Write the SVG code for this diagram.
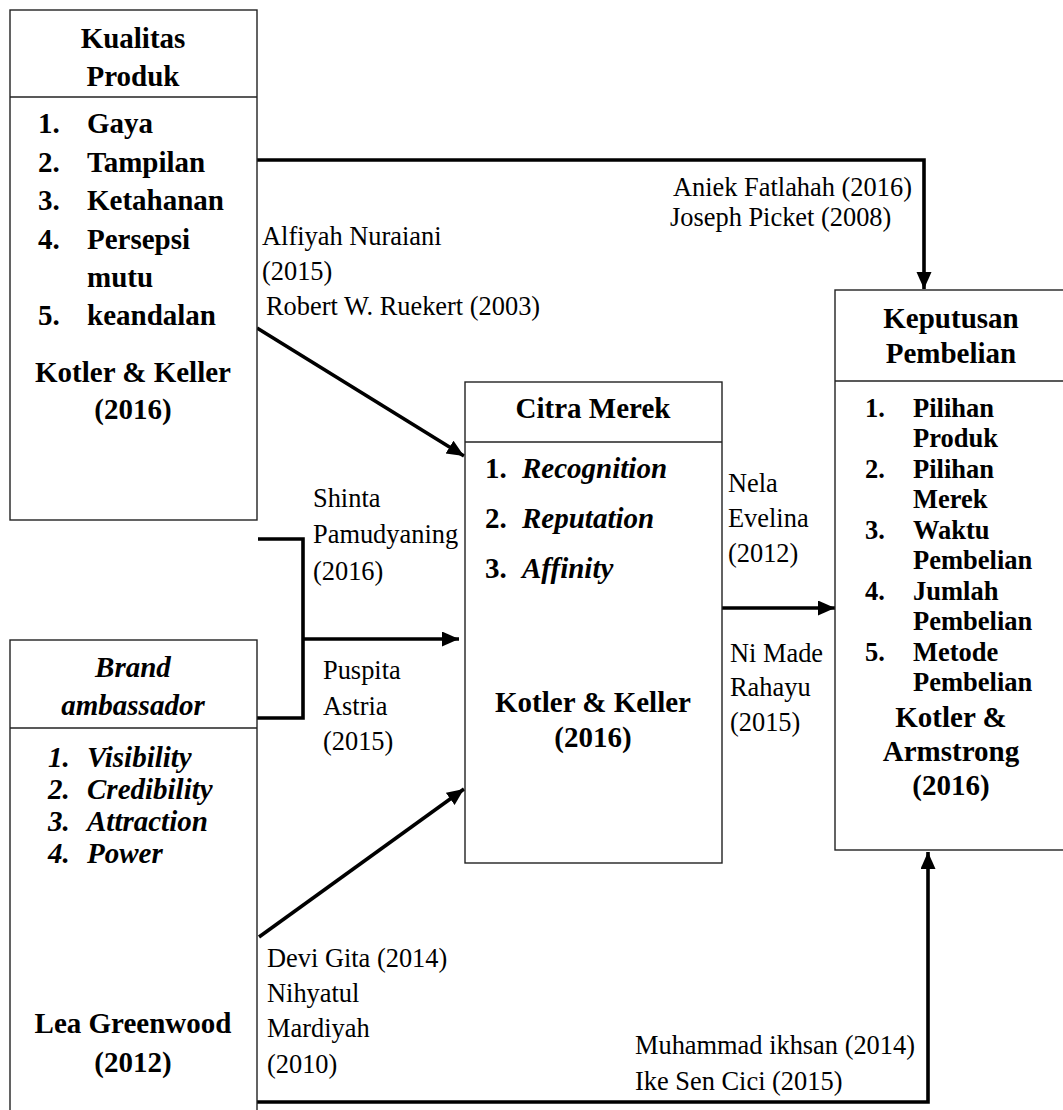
<svg xmlns="http://www.w3.org/2000/svg" width="1063" height="1110" viewBox="0 0 1063 1110">
<style>
text{font-family:"Liberation Serif","Times New Roman",serif;fill:#000}
.b{font-weight:bold;font-size:29px}
.bi{font-weight:bold;font-style:italic;font-size:29px}
.bs{font-weight:bold;font-size:26.5px}
.r{font-size:26.4px}
.c{text-anchor:middle}
.box{fill:#fff;stroke:#222;stroke-width:1.4}
.div{stroke:#222;stroke-width:1.4}
.con{fill:none;stroke:#000;stroke-width:3.6}
</style>
<defs>
<marker id="ah" markerUnits="userSpaceOnUse" markerWidth="18" markerHeight="16" refX="17" refY="7.5" orient="auto">
<path d="M0,0 L17,7.5 L0,15 z" fill="#000"/>
</marker>
</defs>
<rect width="1063" height="1110" fill="#fff"/>

<g id="connectors">
<polyline class="con" points="257,160 924,160 924,289" marker-end="url(#ah)"/>
<line class="con" x1="257" y1="328" x2="464" y2="456" marker-end="url(#ah)"/>
<polyline class="con" points="258,539 303,539 303,718 257,718"/>
<line class="con" x1="303" y1="639" x2="459" y2="639" marker-end="url(#ah)"/>
<line class="con" x1="259" y1="937" x2="464" y2="789" marker-end="url(#ah)"/>
<line class="con" x1="722" y1="608" x2="835" y2="608" marker-end="url(#ah)"/>
<polyline class="con" points="257,1102 928,1102 928,852" marker-end="url(#ah)"/>
</g>

<g id="labels">
<text class="r" x="673" y="196">Aniek Fatlahah (2016)</text>
<text class="r" x="670" y="226">Joseph Picket (2008)</text>
<text class="r" x="262" y="245">Alfiyah Nuraiani</text>
<text class="r" x="262" y="280">(2015)</text>
<text class="r" x="266" y="315">Robert W. Ruekert (2003)</text>
<text class="r" x="313" y="507">Shinta</text>
<text class="r" x="313" y="543">Pamudyaning</text>
<text class="r" x="313" y="580">(2016)</text>
<text class="r" x="323" y="679">Puspita</text>
<text class="r" x="323" y="715">Astria</text>
<text class="r" x="323" y="750">(2015)</text>
<text class="r" x="728" y="492">Nela</text>
<text class="r" x="728" y="527">Evelina</text>
<text class="r" x="728" y="562">(2012)</text>
<text class="r" x="730" y="662">Ni Made</text>
<text class="r" x="730" y="696">Rahayu</text>
<text class="r" x="730" y="731">(2015)</text>
<text class="r" x="267" y="967">Devi Gita (2014)</text>
<text class="r" x="267" y="1002">Nihyatul</text>
<text class="r" x="267" y="1037">Mardiyah</text>
<text class="r" x="267" y="1073">(2010)</text>
<text class="r" x="635" y="1054">Muhammad ikhsan (2014)</text>
<text class="r" x="635" y="1090">Ike Sen Cici (2015)</text>
</g>

<g id="kualitas-produk">
<rect class="box" x="10" y="10" width="247" height="510"/>
<line class="div" x1="10" y1="97" x2="257" y2="97"/>
<text class="b c" x="133" y="48">Kualitas</text>
<text class="b c" x="133" y="86">Produk</text>
<text class="b" x="38" y="133">1.</text><text class="b" x="87" y="133">Gaya</text>
<text class="b" x="38" y="172">2.</text><text class="b" x="87" y="172">Tampilan</text>
<text class="b" x="38" y="210">3.</text><text class="b" x="87" y="210">Ketahanan</text>
<text class="b" x="38" y="249">4.</text><text class="b" x="87" y="249">Persepsi</text>
<text class="b" x="87" y="287">mutu</text>
<text class="b" x="38" y="325">5.</text><text class="b" x="87" y="325">keandalan</text>
<text class="b c" x="133" y="382">Kotler &amp; Keller</text>
<text class="b c" x="133" y="419">(2016)</text>
</g>

<g id="brand-ambassador">
<rect class="box" x="10" y="640" width="247" height="480"/>
<line class="div" x1="10" y1="728" x2="257" y2="728"/>
<text class="bi c" x="133" y="677">Brand</text>
<text class="bi c" x="133" y="715">ambassador</text>
<text class="bi" x="48" y="767">1.</text><text class="bi" x="87" y="767">Visibility</text>
<text class="bi" x="48" y="799">2.</text><text class="bi" x="87" y="799">Credibility</text>
<text class="bi" x="48" y="831">3.</text><text class="bi" x="87" y="831">Attraction</text>
<text class="bi" x="48" y="863">4.</text><text class="bi" x="87" y="863">Power</text>
<text class="b c" x="133" y="1033">Lea Greenwood</text>
<text class="b c" x="133" y="1072">(2012)</text>
</g>

<g id="citra-merek">
<rect class="box" x="465" y="382" width="257" height="481"/>
<line class="div" x1="465" y1="442" x2="722" y2="442"/>
<text class="b c" x="593" y="418">Citra Merek</text>
<text class="b" x="485" y="478">1.</text><text class="bi" x="522" y="478">Recognition</text>
<text class="b" x="485" y="528">2.</text><text class="bi" x="522" y="528">Reputation</text>
<text class="b" x="485" y="578">3.</text><text class="bi" x="522" y="578">Affinity</text>
<text class="b c" x="593" y="712">Kotler &amp; Keller</text>
<text class="b c" x="593" y="747">(2016)</text>
</g>

<g id="keputusan-pembelian">
<rect class="box" x="835" y="290" width="232" height="560"/>
<line class="div" x1="835" y1="381" x2="1067" y2="381"/>
<text class="b c" x="951" y="328">Keputusan</text>
<text class="b c" x="951" y="363">Pembelian</text>
<text class="bs" x="865" y="417">1.</text><text class="bs" x="913" y="417">Pilihan</text>
<text class="bs" x="913" y="447">Produk</text>
<text class="bs" x="865" y="478">2.</text><text class="bs" x="913" y="478">Pilihan</text>
<text class="bs" x="913" y="508">Merek</text>
<text class="bs" x="865" y="539">3.</text><text class="bs" x="913" y="539">Waktu</text>
<text class="bs" x="913" y="569">Pembelian</text>
<text class="bs" x="865" y="600">4.</text><text class="bs" x="913" y="600">Jumlah</text>
<text class="bs" x="913" y="630">Pembelian</text>
<text class="bs" x="865" y="661">5.</text><text class="bs" x="913" y="661">Metode</text>
<text class="bs" x="913" y="691">Pembelian</text>
<text class="b c" x="951" y="727">Kotler &amp;</text>
<text class="b c" x="951" y="761">Armstrong</text>
<text class="b c" x="951" y="795">(2016)</text>
</g>
</svg>
